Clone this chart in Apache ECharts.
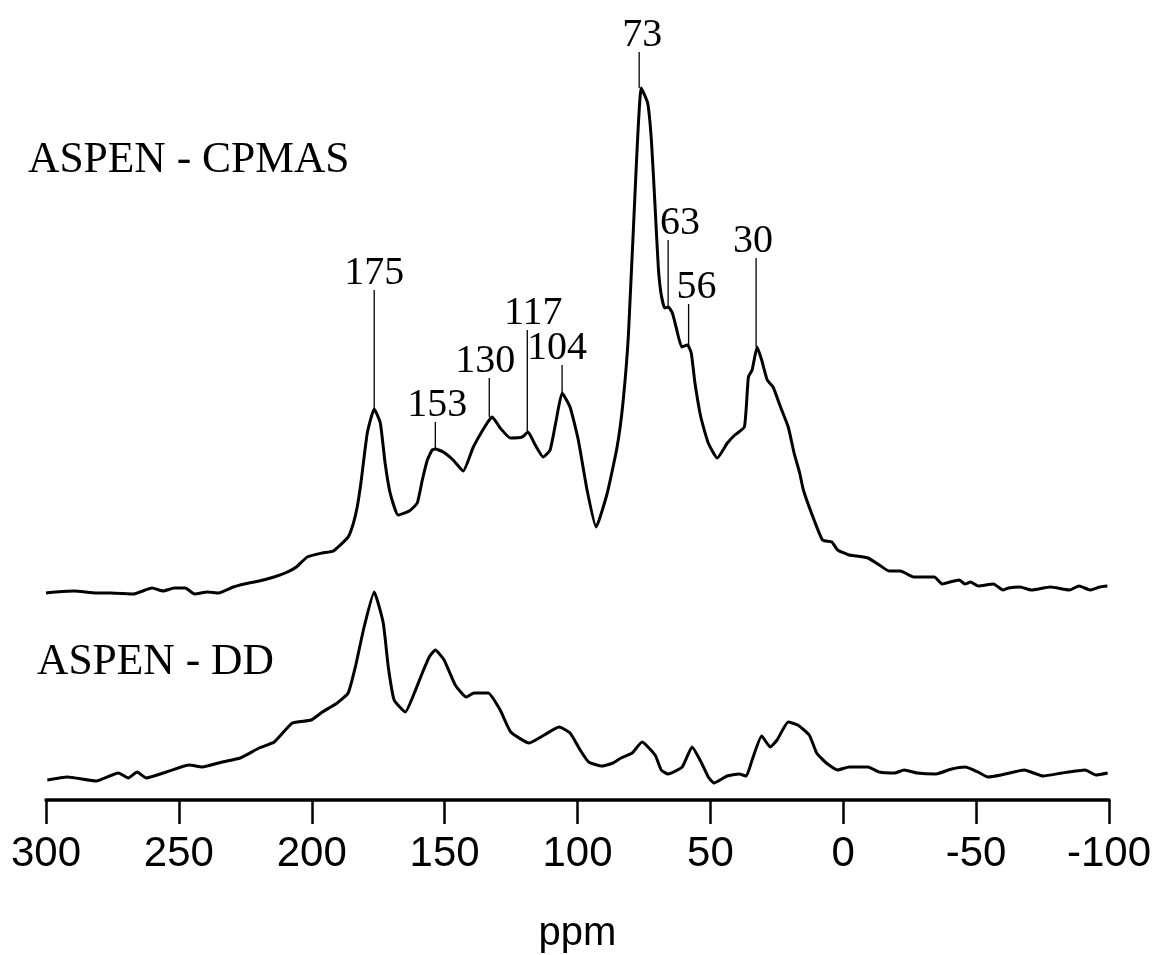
<!DOCTYPE html>
<html>
<head>
<meta charset="utf-8">
<script src="https://cdn.jsdelivr.net/npm/echarts@6/dist/echarts.min.js"></script>
<style>
  html, body { margin: 0; padding: 0; background: #fff; }
  #chart { width: 1156px; height: 955px; }
</style>
</head>
<body>
<div id="chart"></div>
<script>
// 13C NMR spectra of aspen: CPMAS (top trace) and DD (bottom trace).
// Intensities are in arbitrary units; each trace keeps its own vertical offset.
const cpmasPpm = [300.0, 296.3, 289.4, 281.0, 275.4, 267.1, 260.1, 255.9, 251.8, 247.6, 244.1, 239.2, 235.1, 229.5, 225.3,
  219.8, 214.2, 210.0, 205.8, 201.7, 196.1, 191.9, 186.3, 184.3, 182.9, 181.5, 179.1, 176.5, 174.2, 172.4, 170.5, 167.5,
  163.3, 160.3, 158.4, 156.5, 154.7, 153.5, 150.5, 146.8, 143.0, 139.2, 134.0, 132.1, 129.1, 125.3, 120.8, 118.6, 115.9,
  112.9, 110.3, 108.0, 105.8, 102.8, 99.7, 96.4, 93.0, 88.8, 85.1, 82.9, 80.8, 77.9, 76.0, 73.6, 72.2, 70.8, 69.6, 68.6,
  67.2, 65.8, 64.3, 62.9, 60.8, 58.6, 57.2, 55.8, 53.6, 50.8, 47.4, 43.6, 40.8, 37.2, 35.7, 34.3, 32.4, 30.7, 28.6, 26.4,
  23.6, 20.7, 18.5, 16.4, 15.0, 11.4, 7.8, 4.3, 2.1, -2.2, -5.0, -9.3, -13.6, -17.2, -21.5, -26.5, -30.8, -34.3, -37.2,
  -40.1, -43.6, -45.8, -47.9, -50.8, -56.5, -60.1, -62.2, -66.5, -70.8, -78.0, -85.1, -88.7, -93.0, -96.5, -99.4];
const cpmasInt = [207, 208, 209, 207, 207, 206, 212, 209, 212, 212, 206, 208, 207, 213, 216,
  219, 223, 227, 233, 243, 247, 249, 263, 277, 293, 317, 367, 391, 377, 337, 307, 285,
  289, 297, 320, 340, 350, 351, 348, 340, 329, 353, 377, 383, 372, 362, 363, 368, 355,
  343, 350, 380, 407, 393, 360, 310, 273, 307, 353, 397, 467, 633, 712, 697, 660, 593, 533, 507,
  492, 493, 487, 473, 453, 455, 447, 417, 383, 357, 342, 357, 365, 373, 423, 430, 453, 440, 420, 413,
  393, 373, 347, 327, 310, 283, 260, 258, 250, 245, 244, 242, 235, 229, 229, 223, 223, 223, 216,
  218, 220, 216, 218, 214, 216, 210, 212, 213, 210, 213, 210, 214, 210, 213, 214];

const ddPpm = [299.5, 292.0, 281.1, 272.8, 269.0, 265.7, 262.3, 254.7, 246.1, 241.2, 233.7, 226.9, 219.8, 214.1, 207.3,
  200.2, 196.0, 190.4, 186.3, 183.6, 180.3, 176.5, 173.1, 171.2, 169.0, 164.8, 161.4, 158.4, 155.8, 153.5, 150.2, 146.0,
  141.9, 138.9, 133.6, 129.1, 125.1, 118.2, 112.5, 106.9, 102.8, 99.0, 95.8, 90.7, 86.6, 83.6, 79.4, 75.7, 70.8, 68.5,
  65.9, 60.6, 56.9, 53.5, 50.8, 48.6, 43.7, 39.2, 36.5, 34.3, 30.7, 27.5, 24.9, 20.7, 17.1, 12.8, 10.0, 6.4, 2.1, -2.2,
  -9.3, -13.5, -19.4, -22.9, -27.8, -34.9, -40.8, -45.9, -50.7, -54.4, -59.4, -68.1, -75.2, -82.3, -91.0, -95.1, -99.5];
const ddInt = [20, 23, 19, 27, 22, 28, 22, 28, 35, 33, 38, 42, 52, 58, 77,
  80, 88, 97, 107, 133, 173, 208, 177, 133, 100, 88, 107, 127, 143, 150, 140, 115,
  103, 107, 107, 90, 68, 57, 65, 73, 67, 50, 38, 34, 37, 42, 47, 58, 45, 30,
  26, 33, 53, 38, 23, 17, 24, 26, 24, 40, 64, 53, 60, 78, 75, 65, 47, 37, 30, 33,
  33, 28, 27, 30, 27, 26, 31, 33, 28, 23, 25, 30, 24, 27, 30, 25, 27];

// peak assignments on the CPMAS trace
const peakPpm = [176.5, 153.5, 133.2, 118.9, 105.8, 76.8, 65.9, 58.2, 32.8];
const peakInt = [392, 350, 383, 367, 407, 712, 493, 455, 453];
const peakText = ['175', '153', '130', '117', '104', '73', '63', '56', '30'];

const xTicks = [300, 250, 200, 150, 100, 50, 0, -50, -100];
const traceNames = ['ASPEN - CPMAS', 'ASPEN - DD'];

// label layout (not data): top of each leader line, and text nudge in px
const leaderTop = [510, 378, 422, 470, 435, 748, 560, 496, 542];
const labelDx = [0, 2, -4, 6, -5, 3, 12, 8, -3];

const SERIF = "'Liberation Serif', 'Times New Roman', serif";
const SANS = "'Liberation Sans', Arial, sans-serif";

const chart = echarts.init(document.getElementById('chart'), null, { renderer: 'canvas' });

const zip = (xs, ys) => xs.map((x, i) => [x, ys[i]]);

chart.setOption({
  animation: false,
  backgroundColor: '#fff',
  grid: { left: 46, right: 47, top: 0, bottom: 155, outerBoundsMode: 'none', containLabel: false },
  xAxis: {
    type: 'value', inverse: true, min: -100, max: 300, interval: 50,
    name: 'ppm', nameLocation: 'middle', nameGap: 114,
    nameTextStyle: { color: '#000', fontSize: 40, fontFamily: SANS },
    axisLine: { onZero: false, lineStyle: { color: '#000', width: 3.5 } },
    axisTick: { length: 24, lineStyle: { color: '#000', width: 2.5 } },
    axisLabel: {
      color: '#000', fontSize: 42, fontFamily: SANS, margin: 33,
      formatter: (v) => (xTicks.includes(v) ? String(v) : ''),
    },
    splitLine: { show: false },
  },
  yAxis: { type: 'value', min: 0, max: 800, show: false },
  graphic: [
    { type: 'text', x: 28, y: 161, style: { text: traceNames[0], font: `43.5px ${SERIF}`, fill: '#000', textVerticalAlign: 'middle', verticalAlign: 'middle' } },
    { type: 'text', x: 37, y: 663, style: { text: traceNames[1], font: `43.5px ${SERIF}`, fill: '#000', textVerticalAlign: 'middle', verticalAlign: 'middle' } },
  ],
  series: [
    {
      type: 'line', data: zip(cpmasPpm, cpmasInt), showSymbol: false, silent: true,
      lineStyle: { color: '#000', width: 3 }, smooth: 0.15,
    },
    {
      type: 'line', data: zip(ddPpm, ddInt), showSymbol: false, silent: true,
      lineStyle: { color: '#000', width: 3 }, smooth: 0.15,
    },
    {
      type: 'custom', silent: true,
      data: peakPpm.map((p, i) => [p, peakInt[i], leaderTop[i]]),
      renderItem: (params, api) => {
        const i = params.dataIndex;
        const bottom = api.coord([api.value(0), api.value(1)]);
        const top = api.coord([api.value(0), api.value(2)]);
        return {
          type: 'group',
          children: [
            { type: 'line', shape: { x1: top[0], y1: top[1], x2: bottom[0], y2: bottom[1] },
              style: { stroke: '#000', lineWidth: 1.3 } },
            { type: 'text', x: top[0] + labelDx[i], y: top[1] - 17,
              style: { text: peakText[i], font: `40px ${SERIF}`, fill: '#000',
                textAlign: 'center', textVerticalAlign: 'middle', align: 'center', verticalAlign: 'middle' } },
          ],
        };
      },
    },
  ],
});
</script>
</body>
</html>
